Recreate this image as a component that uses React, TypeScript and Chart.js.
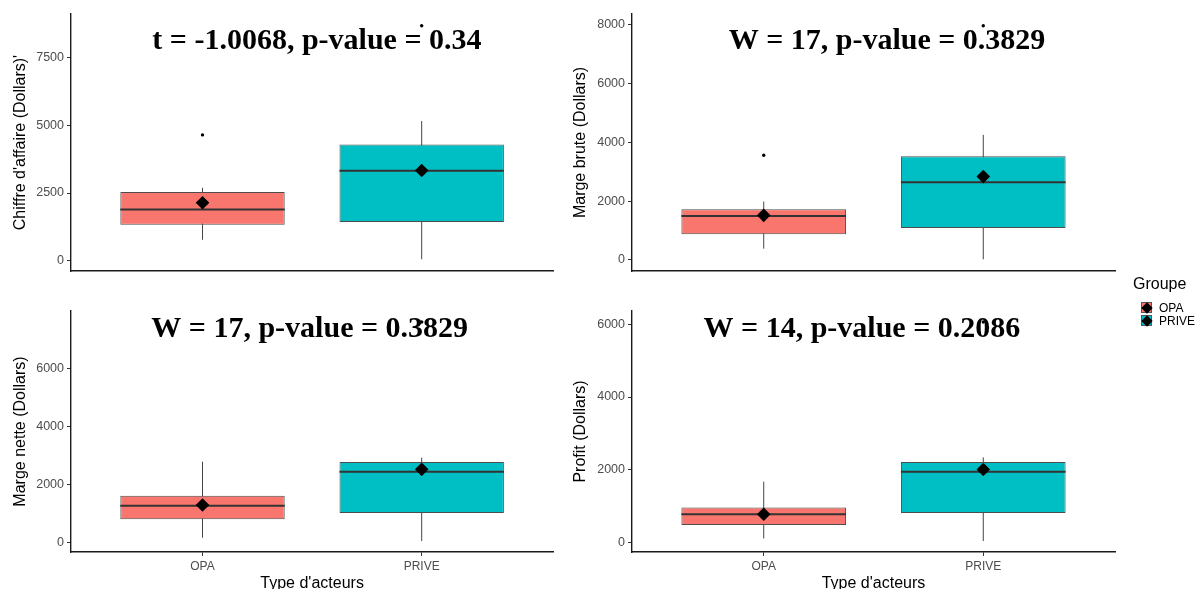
import React, { useEffect, useRef } from 'react';
import { Chart, registerables } from 'chart.js';

Chart.register(...registerables);

// ---------- data ----------
const categories = ['OPA', 'PRIVE'];
const groupColors = ['#F8766D', '#00BFC4'];

// Chiffre d'affaire
const caMin = [780, 60];
const caQ1 = [1335, 1430];
const caMedian = [1895, 3320];
const caQ3 = [2535, 4290];
const caMax = [2695, 5150];
const caMean = [2140, 3330];
const caOutliers = [[4640], [8660]];
const caTicks = [0, 2500, 5000, 7500];

// Marge brute
const mbMin = [385, 23];
const mbQ1 = [870, 1085];
const mbMedian = [1495, 2635];
const mbQ3 = [1720, 3520];
const mbMax = [1980, 4245];
const mbMean = [1515, 2830];
const mbOutliers = [[3555], [7950]];
const mbTicks = [0, 2000, 4000, 6000, 8000];

// Marge nette
const mnMin = [150, 35];
const mnQ1 = [785, 1000];
const mnMedian = [1255, 2430];
const mnQ3 = [1600, 2765];
const mnMax = [2775, 2915];
const mnMean = [1280, 2510];
const mnOutliers = [[], [7600]];
const mnTicks = [0, 2000, 4000, 6000];

// Profit
const prMin = [100, 28];
const prQ1 = [470, 800];
const prMedian = [765, 1940];
const prQ3 = [955, 2205];
const prMax = [1665, 2335];
const prMean = [765, 2000];
const prOutliers = [[], [6070]];
const prTicks = [0, 2000, 4000, 6000];

const panelTitles = [
  't = -1.0068, p-value = 0.34',
  'W = 17, p-value = 0.3829',
  'W = 17, p-value = 0.3829',
  'W = 14, p-value = 0.2086',
];
const yTitles = ["Chiffre d'affaire (Dollars)'", 'Marge brute (Dollars)', 'Marge nette (Dollars)', 'Profit (Dollars)'];
const xTitle = "Type d'acteurs";
const legendTitle = 'Groupe';

// ---------- layout (styles) ----------
const BOX_WIDTH = 0.75;
const SANS = '"Liberation Sans", Arial, sans-serif';
const SERIF = '"Liberation Serif", "Times New Roman", serif';

type Layout = {
  box: { left: number; top: number; width: number; height: number };
  area: { l: number; t: number; r: number; b: number };
  titleFrac: number;
  titleBaseline: number;
  showX: boolean;
};

const layouts: Layout[] = [
  { box: { left: 0, top: 0, width: 560, height: 290 }, area: { l: 71, t: 14, r: 556, b: 271 }, titleFrac: 0.51, titleBaseline: 35, showX: false },
  { box: { left: 560, top: 0, width: 637, height: 290 }, area: { l: 632, t: 14, r: 1115, b: 271 }, titleFrac: 0.528, titleBaseline: 35, showX: false },
  { box: { left: 0, top: 290, width: 560, height: 310 }, area: { l: 71, t: 311, r: 556, b: 552 }, titleFrac: 0.495, titleBaseline: 26, showX: true },
  { box: { left: 560, top: 290, width: 637, height: 310 }, area: { l: 632, t: 311, r: 1115, b: 552 }, titleFrac: 0.476, titleBaseline: 26, showX: true },
];

type PanelData = {
  mins: number[]; q1: number[]; medians: number[]; q3: number[]; maxs: number[];
  means: number[]; outliers: number[][]; ticks: number[];
};

const panels: PanelData[] = [
  { mins: caMin, q1: caQ1, medians: caMedian, q3: caQ3, maxs: caMax, means: caMean, outliers: caOutliers, ticks: caTicks },
  { mins: mbMin, q1: mbQ1, medians: mbMedian, q3: mbQ3, maxs: mbMax, means: mbMean, outliers: mbOutliers, ticks: mbTicks },
  { mins: mnMin, q1: mnQ1, medians: mnMedian, q3: mnQ3, maxs: mnMax, means: mnMean, outliers: mnOutliers, ticks: mnTicks },
  { mins: prMin, q1: prQ1, medians: prMedian, q3: prQ3, maxs: prMax, means: prMean, outliers: prOutliers, ticks: prTicks },
];

const panelTitlePlugin = {
  id: 'panelTitle',
  beforeDatasetsDraw(chart: any, _args: any, opts: any) {
    const { ctx, chartArea } = chart;
    ctx.save();
    ctx.font = `bold 30px ${SERIF}`;
    ctx.fillStyle = '#000';
    ctx.textAlign = 'center';
    ctx.textBaseline = 'alphabetic';
    const x = chartArea.left + opts.frac * (chartArea.right - chartArea.left);
    ctx.fillText(opts.text, x, chartArea.top + opts.baseline);
    ctx.restore();
  },
};

function buildConfig(p: PanelData, idx: number) {
  const lay = layouts[idx];
  const all = [...p.mins, ...p.maxs, ...p.outliers.flat()];
  const lo = Math.min(...all);
  const hi = Math.max(...all);
  const pad = (hi - lo) * 0.05;

  const whiskers: any[] = [];
  const medians: any[] = [];
  const outlierPts: any[] = [];
  categories.forEach((_, i) => {
    const x = i + 1;
    whiskers.push({ x, y: p.mins[i] }, { x, y: p.maxs[i] }, { x, y: null });
    medians.push({ x: x - BOX_WIDTH / 2, y: p.medians[i] }, { x: x + BOX_WIDTH / 2, y: p.medians[i] }, { x, y: null });
    p.outliers[i].forEach((v) => outlierPts.push({ x, y: v }));
  });

  const xScale: any = {
    type: 'linear',
    min: 0.4,
    max: 2.6,
    offset: false,
    afterBuildTicks: (s: any) => { s.ticks = categories.map((_, i) => ({ value: i + 1 })); },
    afterFit: (s: any) => { s.height = lay.box.top + lay.box.height - lay.area.b; },
    border: { display: true, color: '#1a1a1a', width: 1.4 },
    grid: { display: lay.showX, drawOnChartArea: false, offset: false, tickLength: 4, color: '#333', lineWidth: 1 },
    ticks: {
      display: lay.showX,
      padding: 3,
      color: '#4D4D4D',
      font: { size: 12, family: SANS },
      callback: (v: number) => categories[Math.round(v) - 1] ?? '',
      maxRotation: 0,
      autoSkip: false,
    },
    title: {
      display: lay.showX,
      text: xTitle,
      color: '#000',
      font: { size: 16, family: SANS },
      padding: { top: 0, bottom: 7 },
    },
  };

  const yScale: any = {
    type: 'linear',
    min: lo - pad,
    max: hi + pad,
    afterBuildTicks: (s: any) => { s.ticks = p.ticks.map((v) => ({ value: v })); },
    afterFit: (s: any) => { s.width = lay.area.l - lay.box.left; },
    border: { display: true, color: '#1a1a1a', width: 1.4 },
    grid: { drawOnChartArea: false, tickLength: 4, color: '#333', lineWidth: 1 },
    ticks: {
      padding: 3,
      color: '#4D4D4D',
      font: { size: 12.5, family: SANS },
      callback: (v: number) => String(v),
    },
    title: {
      display: true,
      text: yTitles[idx],
      color: '#000',
      font: { size: 16, family: SANS },
      padding: { top: 11, bottom: 0 },
    },
  };

  return {
    type: 'bar' as const,
    data: {
      datasets: [
        {
          type: 'line',
          data: outlierPts,
          showLine: false,
          pointStyle: 'circle',
          pointRadius: 1.7,
          pointBackgroundColor: '#000',
          pointBorderWidth: 0,
          order: 0,
        },
        {
          type: 'line',
          data: categories.map((_, i) => ({ x: i + 1, y: p.means[i] })),
          showLine: false,
          pointStyle: 'rectRot',
          pointRadius: 6.8,
          pointBackgroundColor: '#000',
          pointBorderColor: '#000',
          pointBorderWidth: 0,
          order: 0,
        },
        {
          type: 'line',
          data: medians,
          borderColor: '#333',
          borderWidth: 2,
          pointRadius: 0,
          spanGaps: false,
          order: 1,
        },
        {
          type: 'bar',
          data: categories.map((_, i) => ({ x: i + 1, y: [p.q1[i], p.q3[i]] })),
          backgroundColor: groupColors,
          borderColor: '#4d4d4d',
          borderWidth: 1,
          borderSkipped: false,
          categoryPercentage: 1,
          barPercentage: BOX_WIDTH,
          order: 2,
        },
        {
          type: 'line',
          data: whiskers,
          borderColor: '#444',
          borderWidth: 1,
          pointRadius: 0,
          spanGaps: false,
          order: 3,
        },
      ],
    },
    options: {
      animation: false,
      responsive: true,
      maintainAspectRatio: false,
      events: [],
      layout: {
        padding: {
          left: 0,
          top: lay.area.t - lay.box.top,
          right: lay.box.left + lay.box.width - lay.area.r,
          bottom: 0,
        },
      },
      plugins: {
        legend: { display: false },
        tooltip: { enabled: false },
        panelTitle: { text: panelTitles[idx], frac: lay.titleFrac, baseline: lay.titleBaseline },
      },
      scales: { x: xScale, y: yScale },
    },
    plugins: [panelTitlePlugin],
  };
}

function Panel({ idx }: { idx: number }) {
  const ref = useRef<HTMLCanvasElement>(null);
  useEffect(() => {
    if (!ref.current) return;
    const chart = new Chart(ref.current, buildConfig(panels[idx], idx) as any);
    return () => chart.destroy();
  }, [idx]);
  const b = layouts[idx].box;
  return (
    <div style={{ position: 'absolute', left: b.left, top: b.top, width: b.width, height: b.height }}>
      <canvas ref={ref} />
    </div>
  );
}

function LegendKey({ color }: { color: string }) {
  return (
    <div style={{ position: 'relative', width: 13, height: 13, display: 'inline-block' }}>
      <div style={{ position: 'absolute', left: 1, top: 1, width: 11, height: 11, background: color, boxSizing: 'border-box', border: '1px solid #555' }} />
      <div style={{ position: 'absolute', left: 2.5, top: 2.5, width: 8, height: 8, background: '#000', transform: 'rotate(45deg)' }} />
    </div>
  );
}

export default function App() {
  return (
    <div style={{ position: 'fixed', left: 0, top: 0, width: 1197, height: 589, overflow: 'hidden', background: '#fff' }}>
      {panels.map((_, i) => <Panel key={i} idx={i} />)}
      <div style={{ position: 'absolute', left: 1133, top: 275, font: `16px ${SANS}`, color: '#000' }}>{legendTitle}</div>
      {categories.map((c, i) => (
        <div key={c} style={{ position: 'absolute', left: 1140, top: 301 + i * 13, height: 13, display: 'flex', alignItems: 'center', font: `12px ${SANS}`, color: '#000' }}>
          <LegendKey color={groupColors[i]} />
          <span style={{ marginLeft: 6 }}>{c}</span>
        </div>
      ))}
    </div>
  );
}
